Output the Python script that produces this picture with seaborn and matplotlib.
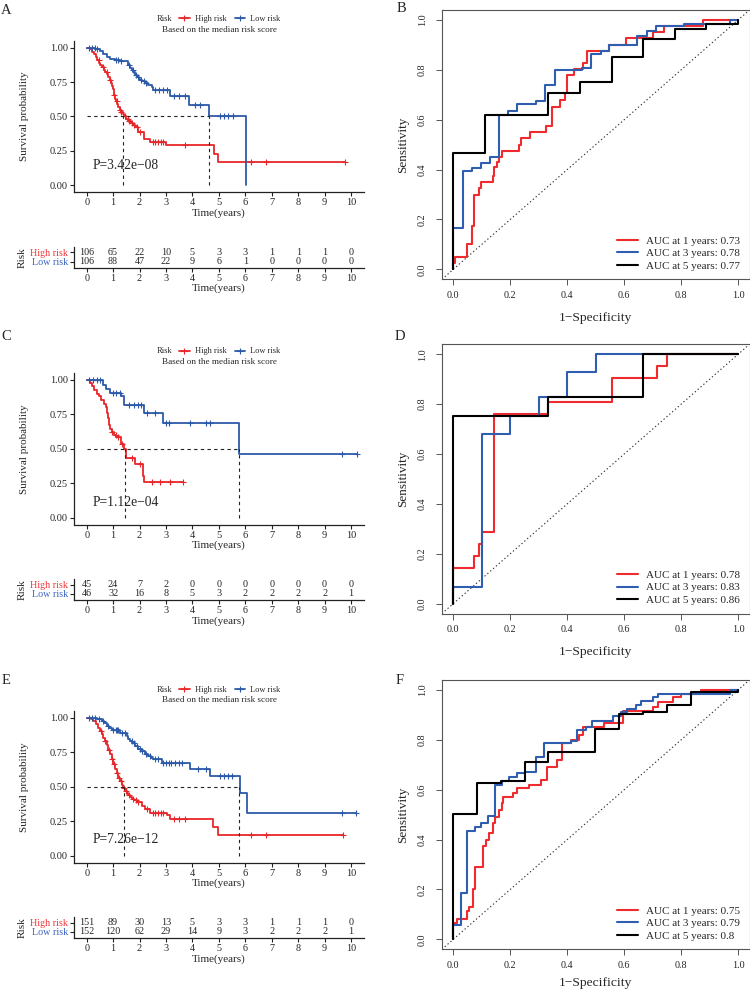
import numpy as np
import matplotlib
matplotlib.use('Agg')
import matplotlib.pyplot as plt
from matplotlib.lines import Line2D
import seaborn as sns

sns.set_style('ticks')
plt.rcParams['font.family'] = ['Liberation Serif', 'DejaVu Serif']

W, H = 750, 992
RED = '#E8262A'
BLUE = '#2D5AA8'
ROC_COLORS = ['#EF2B2F', '#2F5EB0', '#000000']

years = list(range(11))

# ---- panel A (KM) ----
a_high_t = [0, 0.12, 0.2, 0.28, 0.34, 0.4, 0.46, 0.52, 0.58, 0.64, 0.7, 0.76, 0.82, 0.88, 0.92, 0.96,
            0.99, 1.02, 1.05, 1.08, 1.12, 1.16, 1.2, 1.25, 1.3, 1.36, 1.42, 1.5, 1.58, 1.66, 1.74, 1.84,
            1.95, 2.17, 2.4, 2.99, 4.82, 4.98, 9.77]
a_high_s = [1.0, 0.99, 0.97, 0.95, 0.93, 0.91, 0.89, 0.875, 0.86, 0.84, 0.825, 0.805, 0.785, 0.765, 0.745, 0.72,
            0.70, 0.675, 0.655, 0.63, 0.61, 0.59, 0.57, 0.55, 0.535, 0.515, 0.50, 0.48, 0.465, 0.45, 0.435, 0.42,
            0.385, 0.335, 0.318, 0.29, 0.23, 0.17, 0.17]
a_high_cens = [0.45, 0.6, 0.75, 0.9, 1.05, 1.15, 1.25, 1.3, 1.45, 1.55, 1.6, 1.7, 1.8, 1.9, 2.0,
               2.5, 2.6, 2.7, 2.8, 2.9, 3.7, 6.2, 6.8, 9.77]
a_low_t = [0, 0.32, 0.5, 0.63, 0.76, 0.88, 1.07, 1.26, 1.58, 1.64, 1.7, 1.77, 1.84, 1.9, 1.97, 2.03,
           2.1, 2.2, 2.33, 2.46, 2.52, 3.15, 3.88, 4.64, 6.02]
a_low_s = [1.0, 0.99, 0.975, 0.95, 0.93, 0.92, 0.91, 0.90, 0.87, 0.85, 0.835, 0.82, 0.80, 0.79, 0.775, 0.765,
           0.755, 0.745, 0.73, 0.715, 0.69, 0.65, 0.58, 0.50, 0.0]
a_low_cens = [0.1, 0.2, 0.3, 0.4, 1.1, 1.2, 1.3, 1.6, 1.75, 1.85, 1.95, 2.05, 2.15, 2.25, 2.6, 2.75,
              2.9, 3.05, 3.3, 3.5, 3.7, 4.1, 4.3, 5.05, 5.2, 5.35, 5.55]
a_median = [1.39, 4.64]
a_pval = 'P=3.42e\u221208'
a_n_high = [106, 65, 22, 10, 5, 3, 3, 1, 1, 1, 0]
a_n_low = [106, 88, 47, 22, 9, 6, 1, 0, 0, 0, 0]

# ---- panel C (KM) ----
c_high_t = [0, 0.13, 0.2, 0.28, 0.38, 0.46, 0.55, 0.65, 0.72, 0.77, 0.8, 0.83, 0.87, 0.95, 1.05,
            1.12, 1.29, 1.41, 1.49, 1.83, 2.12, 2.17, 3.66]
c_high_s = [1.0, 0.978, 0.956, 0.93, 0.9, 0.88, 0.856, 0.827, 0.8, 0.76, 0.72, 0.67, 0.64, 0.62, 0.60,
            0.587, 0.532, 0.50, 0.435, 0.388, 0.30, 0.256, 0.256]
c_high_cens = [0.95, 1.1, 1.2, 1.35, 1.7, 2.0, 2.46, 2.77, 3.15, 3.63]
c_low_t = [0, 0.63, 0.73, 0.88, 1.3, 1.41, 2.17, 2.88, 5.76, 10.21]
c_low_s = [1.0, 0.964, 0.933, 0.904, 0.88, 0.82, 0.76, 0.688, 0.46, 0.46]
c_low_cens = [0.1, 0.25, 0.4, 0.5, 1.0, 1.1, 1.25, 1.6, 1.8, 1.95, 2.05, 2.3, 2.6, 3.0, 3.1,
              3.9, 4.5, 4.65, 9.65, 10.21]
c_median = [1.45, 5.76]
c_pval = 'P=1.12e\u221204'
c_n_high = [45, 24, 7, 2, 0, 0, 0, 0, 0, 0, 0]
c_n_low = [46, 32, 16, 8, 5, 3, 2, 2, 2, 2, 1]

# ---- panel E (KM) ----
e_high_t = [0, 0.15, 0.25, 0.35, 0.44, 0.5, 0.57, 0.63, 0.69, 0.76, 0.82, 0.88, 0.95, 1.01, 1.07, 1.13,
            1.2, 1.26, 1.32, 1.39, 1.45, 1.52, 1.58, 1.64, 1.70, 1.8, 1.89, 2.08, 2.2, 2.4, 3.03, 3.15,
            4.79, 4.98, 9.71]
e_high_s = [1.0, 0.99, 0.976, 0.955, 0.928, 0.905, 0.88, 0.855, 0.83, 0.80, 0.77, 0.735, 0.70, 0.665, 0.63, 0.60,
            0.566, 0.54, 0.51, 0.49, 0.47, 0.455, 0.44, 0.425, 0.414, 0.405, 0.39, 0.36, 0.337, 0.308, 0.294, 0.265,
            0.205, 0.15, 0.15]
e_high_cens = [0.55, 0.7, 0.85, 0.95, 1.05, 1.15, 1.22, 1.3, 1.4, 1.5, 1.6, 1.75, 1.85, 1.95, 2.3,
               2.5, 2.6, 2.7, 2.8, 2.9, 3.3, 3.5, 3.7, 6.2, 6.8, 9.71]
e_low_t = [0, 0.38, 0.57, 0.66, 0.76, 0.85, 0.95, 1.26, 1.51, 1.58, 1.64, 1.72, 1.83, 1.95, 2.08, 2.2,
           2.33, 2.45, 2.52, 2.84, 3.91, 4.67, 5.80, 6.05, 10.2]
e_low_s = [1.0, 0.993, 0.976, 0.96, 0.94, 0.925, 0.915, 0.89, 0.87, 0.85, 0.83, 0.815, 0.795, 0.775, 0.76, 0.74,
           0.72, 0.71, 0.70, 0.675, 0.63, 0.578, 0.458, 0.308, 0.308]
e_low_cens = [0.1, 0.2, 0.3, 0.45, 0.6, 0.8, 1.0, 1.1, 1.15, 1.2, 1.35, 1.45, 1.7, 1.8, 1.9, 2.0, 2.1,
              2.25, 2.4, 2.6, 2.7, 2.9, 3.0, 3.1, 3.2, 3.35, 3.5, 3.6, 4.2, 4.5, 5.05, 5.2, 5.35, 5.5,
              9.65, 10.2]
e_median = [1.41, 5.76]
e_pval = 'P=7.26e\u221212'
e_n_high = [151, 89, 30, 13, 5, 3, 3, 1, 1, 1, 0]
e_n_low = [152, 120, 62, 29, 14, 9, 3, 2, 2, 2, 1]

# ---- ROC panels: (fpr at end of each flat run, tpr level) ----
b_fpr_1 = [0, 0.006, 0.047, 0.064, 0.072, 0.091, 0.098, 0.138, 0.142, 0.154, 0.161, 0.17, 0.229, 0.236, 0.268,
           0.327, 0.348, 0.376, 0.391, 0.399, 0.424, 0.457, 0.469, 0.548, 0.607, 0.70, 0.74, 0.875, 1.0]
b_tpr_1 = [0, 0.024, 0.05, 0.10, 0.175, 0.298, 0.325, 0.349, 0.376, 0.412, 0.432, 0.452, 0.475, 0.499, 0.528,
           0.549, 0.576, 0.652, 0.679, 0.706, 0.779, 0.802, 0.826, 0.876, 0.90, 0.926, 0.95, 0.975, 1.0]
b_fpr_3 = [0, 0.033, 0.064, 0.096, 0.128, 0.161, 0.193, 0.224, 0.292, 0.322, 0.356, 0.453, 0.484, 0.518,
           0.548, 0.645, 0.68, 0.71, 0.81, 0.97, 1.0]
b_tpr_3 = [0, 0.164, 0.394, 0.405, 0.425, 0.452, 0.62, 0.636, 0.663, 0.675, 0.739, 0.80, 0.806, 0.862,
           0.877, 0.90, 0.937, 0.955, 0.975, 0.982, 1.0]
b_fpr_5 = [0, 0.111, 0.333, 0.444, 0.556, 0.667, 0.778, 0.889, 1.0, 1.0]
b_tpr_5 = [0, 0.465, 0.62, 0.706, 0.753, 0.853, 0.925, 0.965, 0.985, 1.0]
b_auc = [0.73, 0.78, 0.77]

d_fpr_1 = [0, 0.071, 0.09, 0.1, 0.143, 0.333, 0.556, 0.714, 0.75, 1.0]
d_tpr_1 = [0, 0.143, 0.19, 0.238, 0.286, 0.762, 0.81, 0.905, 0.952, 1.0]
d_fpr_3 = [0, 0.1, 0.2, 0.3, 0.4, 0.5, 1.0]
d_tpr_3 = [0, 0.068, 0.68, 0.753, 0.83, 0.93, 1.0]
d_fpr_5 = [0, 0.333, 0.667, 1.0]
d_tpr_5 = [0, 0.753, 0.83, 1.0]
d_auc = [0.78, 0.83, 0.86]

f_fpr_1 = [0, 0.012, 0.047, 0.055, 0.068, 0.075, 0.103, 0.114, 0.126, 0.138, 0.146, 0.161, 0.17, 0.175, 0.21,
           0.224, 0.266, 0.309, 0.329, 0.364, 0.383, 0.414, 0.441, 0.455, 0.529, 0.595, 0.70, 0.72, 0.77, 0.80,
           0.87, 1.0]
f_tpr_1 = [0, 0.064, 0.082, 0.114, 0.131, 0.2, 0.291, 0.374, 0.40, 0.425, 0.465, 0.492, 0.519, 0.545, 0.572,
           0.586, 0.606, 0.619, 0.639, 0.69, 0.719, 0.786, 0.80, 0.82, 0.85, 0.868, 0.917, 0.93, 0.95, 0.97,
           0.985, 1.0]
f_fpr_3 = [0, 0.026, 0.049, 0.076, 0.096, 0.123, 0.145, 0.17, 0.195, 0.224, 0.251, 0.292, 0.317, 0.414, 0.434,
           0.467, 0.488, 0.56, 0.589, 0.61, 0.64, 0.66, 0.70, 0.72, 0.97, 1.0]
f_tpr_3 = [0, 0.057, 0.184, 0.436, 0.452, 0.468, 0.495, 0.618, 0.636, 0.65, 0.666, 0.672, 0.73, 0.786, 0.797,
           0.84, 0.85, 0.877, 0.896, 0.91, 0.925, 0.94, 0.955, 0.97, 0.985, 1.0]
f_fpr_5 = [0, 0.082, 0.166, 0.251, 0.333, 0.498, 0.583, 0.667, 0.75, 0.833, 1.0, 1.0]
f_tpr_5 = [0, 0.501, 0.626, 0.636, 0.71, 0.753, 0.842, 0.904, 0.91, 0.94, 0.99, 1.0]
f_auc = [0.75, 0.79, 0.8]

fig = plt.figure(figsize=(W / 100, H / 100), dpi=100)


def rect(l, t, r, b):
    return [l / W, 1 - b / H, (r - l) / W, (b - t) / H]


def ftext(x, y, s, **kw):
    fig.text(x / W, 1 - y / H, s, **kw)


def surv_at(times, surv, x):
    idx = np.searchsorted(times, x, side='right') - 1
    return np.asarray(surv)[idx]


def km_panel(top, letter, letter_y, high, low, medians, ptext, p_y, n_high, n_low):
    ax = fig.add_axes(rect(74, top, 364, top + 151.5))
    for (t, s, cens), col in zip([high, low], [RED, BLUE]):
        sns.lineplot(x=t, y=s, ax=ax, color=col, linewidth=1.3, drawstyle='steps-post',
                     estimator=None, sort=False, legend=False)
        ax.plot(cens, surv_at(t, s, cens), ls='none', marker='+', ms=4.5, mew=0.8, color=col)
    ax.hlines(0.5, 0, max(medians), colors='#222222', linestyles=(0, (3, 3)), linewidth=0.8)
    ax.vlines(medians, 0, 0.5, colors='#222222', linestyles=(0, (3, 3)), linewidth=0.8)
    ax.text(0.23, p_y, ptext, fontsize=9.8, va='center', ha='left')
    ax.set_xlim(-0.48, 10.49)
    ax.set_ylim(-0.05, 1.05)
    ax.set_xticks(years)
    ax.set_yticks([0, 0.25, 0.5, 0.75, 1.0])
    ax.set_yticklabels(['0.00', '0.25', '0.50', '0.75', '1.00'])
    sns.despine(ax=ax)
    for sp in ['left', 'bottom']:
        ax.spines[sp].set_linewidth(0.9)
        ax.spines[sp].set_color('#222222')
    ax.tick_params(length=3, width=0.8, pad=1.5, labelsize=7.5, color='#222222')

    ftext(25, top + 75.75, 'Survival probability', rotation=90, ha='center', va='center', fontsize=8)
    ftext(219, top + 151.5 + 21, 'Time(years)', ha='center', va='center', fontsize=8)
    ftext(6.5, letter_y, letter, ha='center', va='center', fontsize=10.5)

    # legend on top
    ftext(172, top - 21.5, 'Risk', ha='right', va='center', fontsize=6)
    handles = [Line2D([], [], color=RED, lw=1.3, marker='+', ms=4.5, mew=0.8),
               Line2D([], [], color=BLUE, lw=1.3, marker='+', ms=4.5, mew=0.8)]
    fig.legend(handles, ['High risk', 'Low risk'], loc='center left', ncol=2, frameon=False,
               bbox_to_anchor=(179 / W, 1 - (top - 21.5) / H), fontsize=6, handlelength=1.3,
               handletextpad=0.6, columnspacing=0.95, borderpad=0, borderaxespad=0)
    ftext(219, top - 10.8, 'Based on the median risk score', ha='center', va='center', fontsize=6.6)

    # number at risk table
    tab = fig.add_axes(rect(74, top + 206, 364, top + 227))
    for yr, nh, nl in zip(years, n_high, n_low):
        tab.text(yr, 1, str(nh), ha='center', va='center', fontsize=7.3)
        tab.text(yr, 0, str(nl), ha='center', va='center', fontsize=7.3)
    tab.set_xlim(-0.48, 10.49)
    tab.set_ylim(-0.67, 1.61)
    tab.set_xticks(years)
    tab.set_yticks([1, 0])
    tab.set_yticklabels(['High risk', 'Low risk'])
    for lab, col in zip(tab.get_yticklabels(), ['#F0383C', '#3D64C2']):
        lab.set_color(col)
    sns.despine(ax=tab)
    for sp in ['left', 'bottom']:
        tab.spines[sp].set_linewidth(0.9)
        tab.spines[sp].set_color('#222222')
    tab.tick_params(length=3, width=0.8, pad=1.5, labelsize=7.3, color='#222222')
    ftext(22, top + 216.5, 'Risk', rotation=90, ha='center', va='center', fontsize=8.2)
    ftext(219, top + 227 + 20.8, 'Time(years)', ha='center', va='center', fontsize=8)


def roc_panel(top, letter, letter_xy, curves, aucs, xlab_off):
    ax = fig.add_axes(rect(441.9, top, 749.5, top + 269.3))
    ax.axline((0, 0), slope=1, color='#333333', lw=0.8, ls=(0, (1.2, 2.2)))
    for (fpr, tpr), col, yr, auc in zip(curves, ROC_COLORS, [1, 3, 5], aucs):
        sns.lineplot(x=fpr, y=tpr, ax=ax, color=col, linewidth=1.5, drawstyle='steps-pre',
                     estimator=None, sort=False, label=f'AUC at {yr} years: {auc:g}')
    ticks = [0, 0.2, 0.4, 0.6, 0.8, 1.0]
    ax.set_xlim(-0.04, 1.04)
    ax.set_ylim(-0.04, 1.04)
    ax.set_xticks(ticks)
    ax.set_yticks(ticks)
    ax.set_xticklabels([f'{v:.1f}' for v in ticks])
    ax.set_yticklabels([f'{v:.1f}' for v in ticks], rotation=90, va='center')
    for sp in ax.spines.values():
        sp.set_linewidth(0.8)
        sp.set_color('#555555')
    ax.tick_params(length=4, width=0.7, labelsize=7.3, color='#555555')
    ax.tick_params(axis='x', pad=4.5)
    ax.tick_params(axis='y', pad=7)
    ax.legend(loc='center left', bbox_to_anchor=((616.7 - 441.9) / 307.6, 26 / 269.3), frameon=False,
              fontsize=8, handlelength=1.9, handletextpad=0.7, labelspacing=0.25, borderpad=0,
              borderaxespad=0)
    ftext(403, top + 134.6, 'Sensitivity', rotation=90, ha='center', va='center', fontsize=9.5)
    ftext(595.7, top + 269.3 + xlab_off, '1\u2212Specificity', ha='center', va='center', fontsize=9.7)
    ftext(letter_xy[0], letter_xy[1], letter, ha='center', va='center', fontsize=10.5)


km_panel(40.7, 'A', 10, (a_high_t, a_high_s, a_high_cens), (a_low_t, a_low_s, a_low_cens),
         a_median, a_pval, 0.145, a_n_high, a_n_low)
km_panel(373, 'C', 337, (c_high_t, c_high_s, c_high_cens), (c_low_t, c_low_s, c_low_cens),
         c_median, c_pval, 0.113, c_n_high, c_n_low)
km_panel(711, 'E', 681, (e_high_t, e_high_s, e_high_cens), (e_low_t, e_low_s, e_low_cens),
         e_median, e_pval, 0.12, e_n_high, e_n_low)

roc_panel(10, 'B', (401.7, 8), [(b_fpr_1, b_tpr_1), (b_fpr_3, b_tpr_3), (b_fpr_5, b_tpr_5)], b_auc, 38.7)
roc_panel(344.3, 'D', (400, 337), [(d_fpr_1, d_tpr_1), (d_fpr_3, d_tpr_3), (d_fpr_5, d_tpr_5)], d_auc, 38.7)
roc_panel(680, 'F', (400, 680), [(f_fpr_1, f_tpr_1), (f_fpr_3, f_tpr_3), (f_fpr_5, f_tpr_5)], f_auc, 33.5)

fig.savefig('out.png', dpi=100)
